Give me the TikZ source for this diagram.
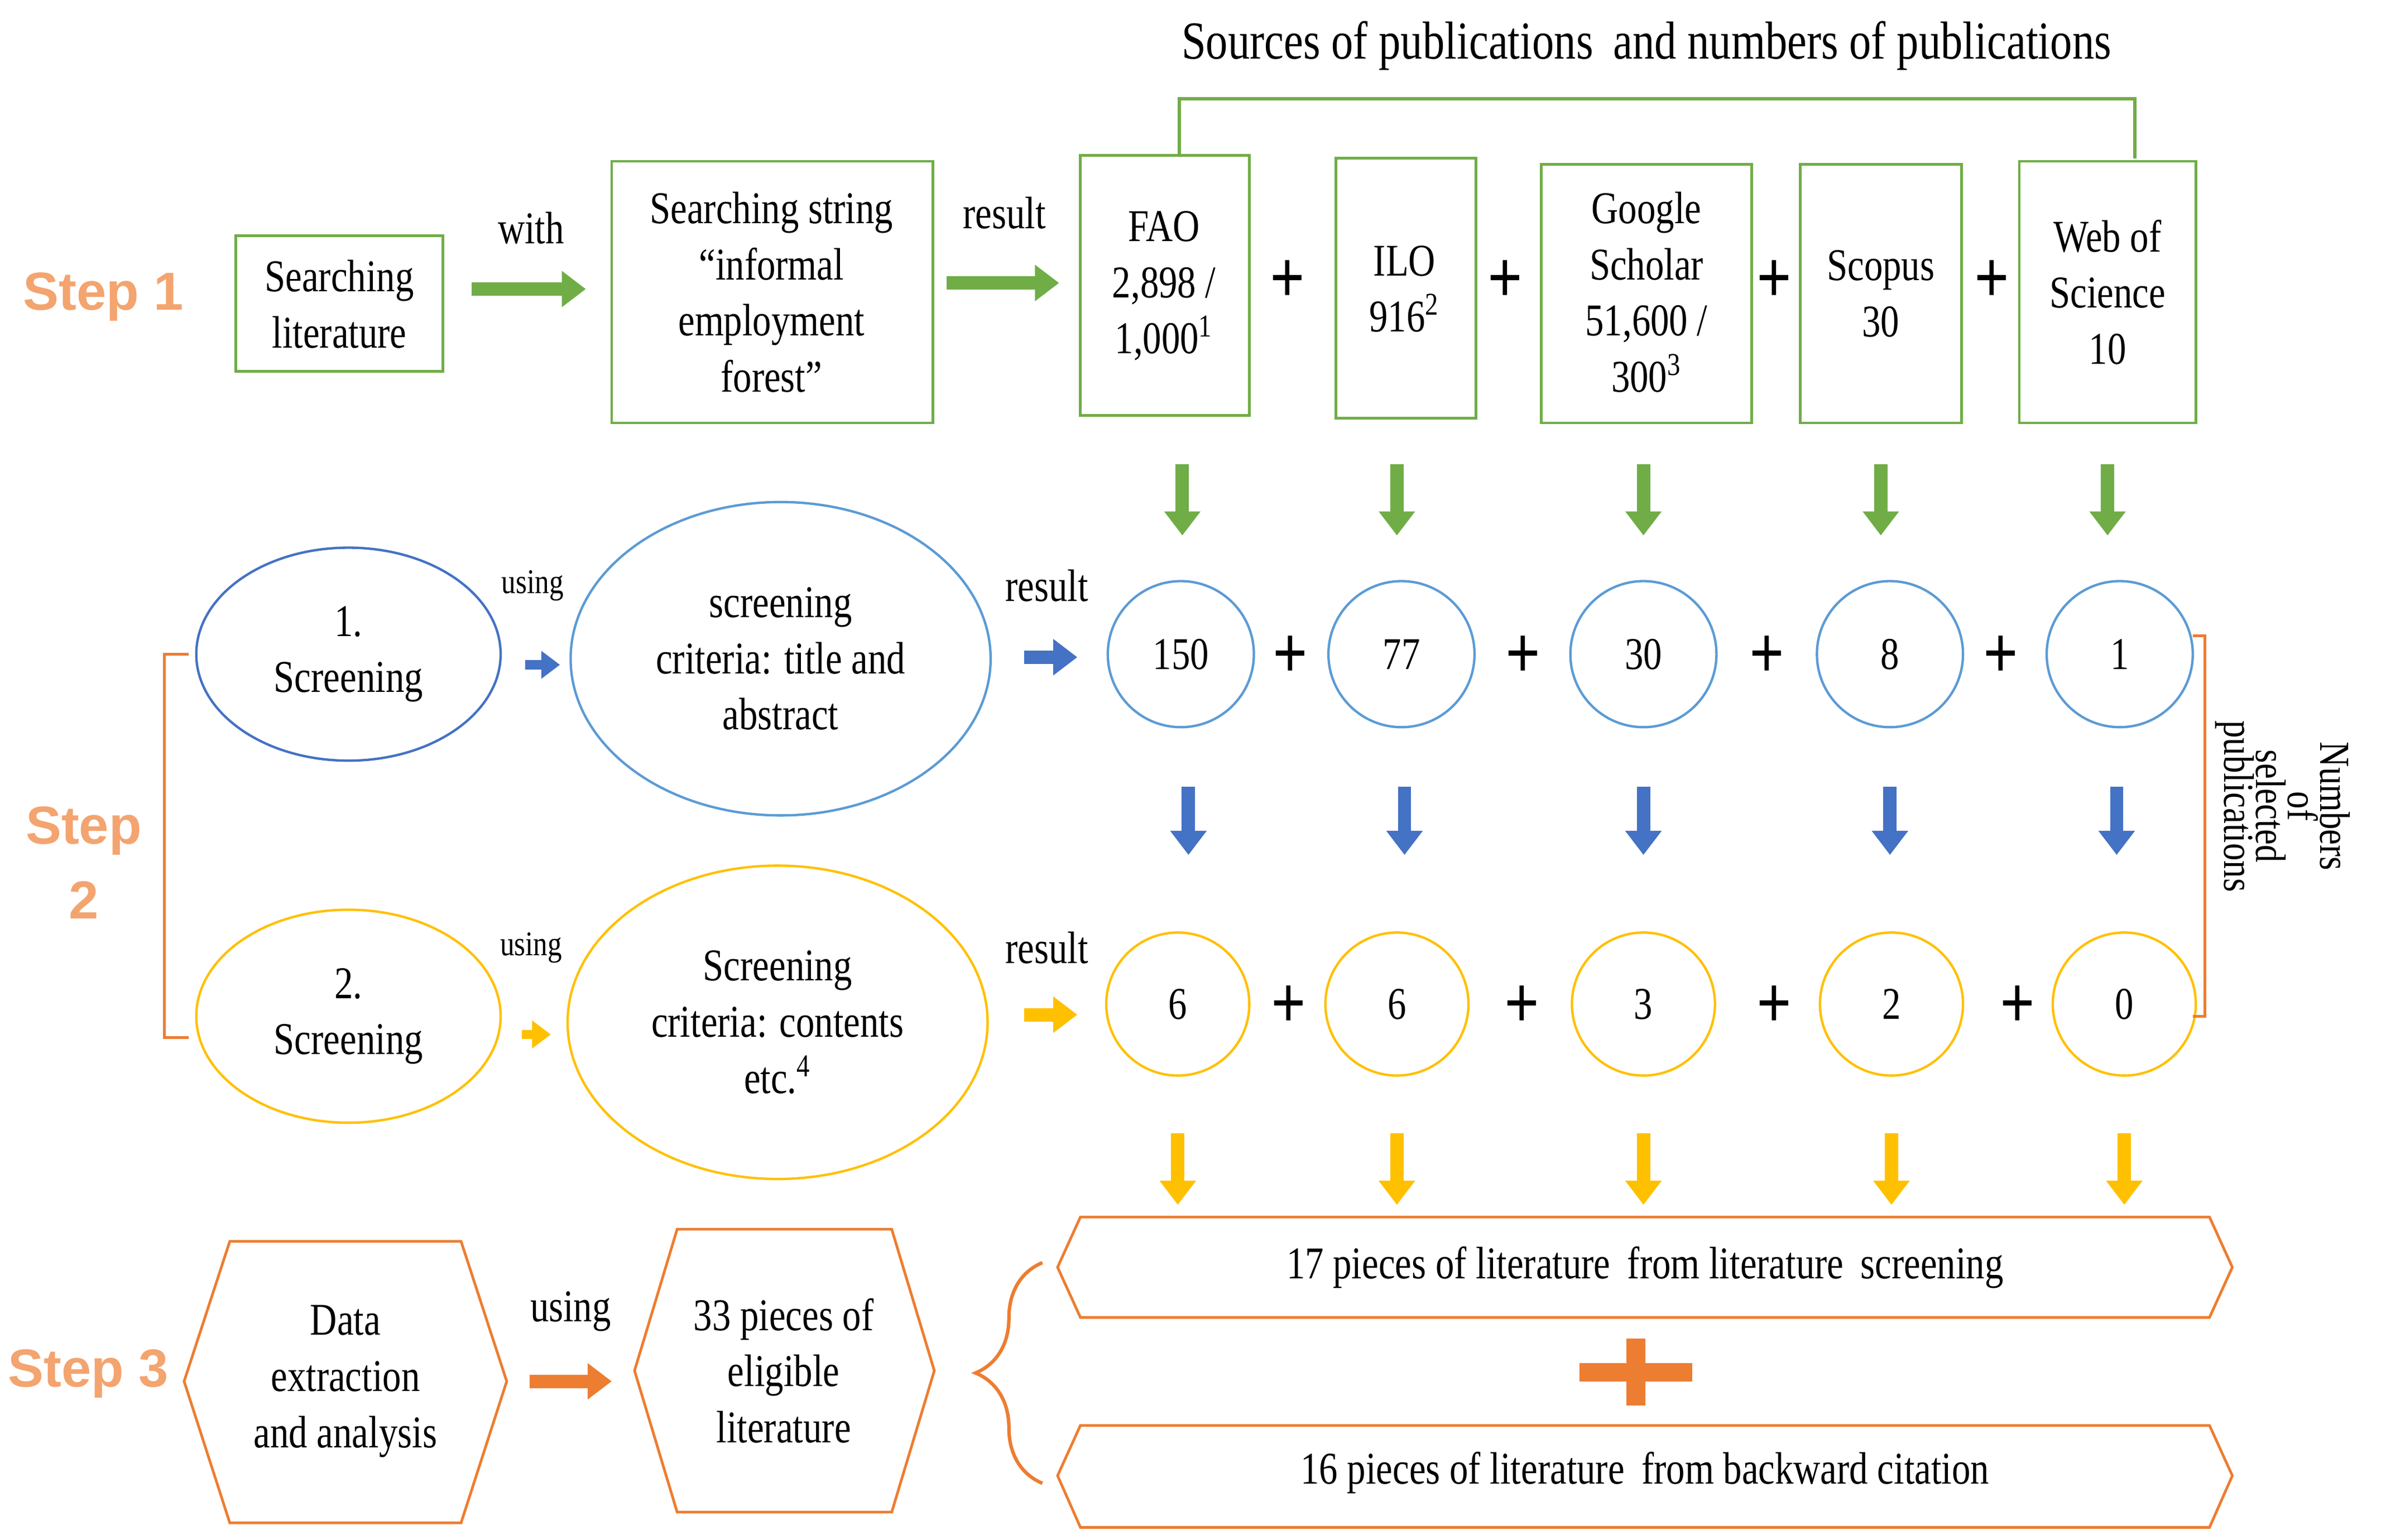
\documentclass[tikz,border=0pt]{standalone}
\usepackage{fontspec}
\setmainfont{Liberation Serif}[FakeStretch=0.82]
\newfontfamily\stepfont{Liberation Sans}
\usetikzlibrary{arrows.meta,decorations.pathreplacing}
\definecolor{cg}{HTML}{70AD47}
\definecolor{cb}{HTML}{4472C4}
\definecolor{clb}{HTML}{5B9BD5}
\definecolor{cy}{HTML}{FFC000}
\definecolor{co}{HTML}{ED7D31}
\begin{document}
\begin{tikzpicture}[x=0.02cm,y=-0.02cm,
  txt/.style={font=\fontsize{17}{21}\selectfont,align=center,inner sep=0pt},
  small/.style={font=\fontsize{13}{15}\selectfont,inner sep=0pt},
  steplbl/.style={font=\stepfont\bfseries\fontsize{20}{24}\selectfont,text=co!70,align=center},
  box/.style={draw=cg,line width=1pt},
  ar/.style={line width=5pt,-{Triangle[length=9pt,width=13pt]}},
  plus/.style={font=\bfseries\fontsize{28}{28}\selectfont,inner sep=0pt}]
\useasboundingbox (0,0) rectangle (1568,1012);
% title
\node[txt,font=\fontsize{20}{24}\selectfont] (title) at (1082,30) {Sources of publications\, and numbers of publications};
\draw[cg,line width=1.3pt] (775,102)--(775,65)--(1403,65)--(1403,104);
% step 1
\node[steplbl] (s1) at (68,195) {Step 1};
\draw[box] (155,155) rectangle (291,244);
\node[txt] (sl) at (223,200) {Searching\\literature};
\node[txt] (with) at (349,150) {with};
\draw[ar,cg] (310,190)--(385,190);
\draw[box] (402,106) rectangle (613,278);
\node[txt] (ss) at (507,192) {Searching string\\``informal\\employment\\forest''};
\node[txt] (r1) at (660,140) {result};
\draw[ar,cg] (622,186)--(696,186);
\draw[box] (710,102) rectangle (821,273);
\node[txt] (fao) at (765,188) {FAO\\2,898 /\\1,000\textsuperscript{1}};
\draw[box] (878,104) rectangle (970,275);
\node[txt] (ilo) at (923,190) {ILO\\916\textsuperscript{2}};
\draw[box] (1013,108) rectangle (1151,278);
\node[txt] (gs) at (1082,192) {Google\\Scholar\\51,600 /\\300\textsuperscript{3}};
\draw[box] (1183,108) rectangle (1289,278);
\node[txt] (sc) at (1236,193) {Scopus\\30};
\draw[box] (1327,106) rectangle (1443,278);
\node[txt] (wos) at (1385,192) {Web of\\Science\\10};
\foreach \x/\n in {846/a,989/b,1166/c,1309/d}{\node[plus] (p1\n) at (\x,185) {+};}
\foreach \x in {777,918,1080,1236,1385}{\draw[ar,cg] (\x,305)--(\x,352);}
% step 2 row 1
\node[steplbl] (s2) at (55,567) {Step\\[4pt]2};
\draw[cb,line width=0.9pt] (229,430) ellipse [x radius=100,y radius=70];
\node[txt] (sc1) at (229,430) {1.\\Screening};
\node[small] (u1) at (350,385) {using};
\draw[ar,cb,line width=3.5pt,-{Triangle[length=7pt,width=10pt]}] (345,437)--(368,437);
\draw[clb,line width=0.9pt] (513,433) ellipse [x radius=138,y radius=103];
\node[txt] (cr1) at (513,433) {screening\\criteria: title and\\abstract};
\node[txt] (r2) at (688,385) {result};
\draw[ar,cb] (673,432)--(708,432);
\foreach \x/\v/\n in {776/150/a,921/77/b,1080/30/c,1242/8/d,1393/1/e}{
  \draw[clb,line width=0.9pt] (\x,430) circle [radius=48];
  \node[txt] (n1\n) at (\x,430) {\v};}
\foreach \x/\n in {848/a,1001/b,1161/c,1315/d}{\node[plus] (p2\n) at (\x,432) {+};}
\foreach \x in {781,923,1080,1242,1391}{\draw[ar,cb] (\x,517)--(\x,562);}
% row 2
\draw[cy,line width=0.9pt] (229,668) ellipse [x radius=100,y radius=70];
\node[txt] (sc2) at (229,668) {2.\\Screening};
\node[small] (u2) at (349,623) {using};
\draw[ar,cy,line width=3.5pt,-{Triangle[length=7pt,width=10pt]}] (343,680)--(362,680);
\draw[cy,line width=0.9pt] (511,672) ellipse [x radius=138,y radius=103];
\node[txt] (cr2) at (511,672) {Screening\\criteria: contents\\etc.\textsuperscript{4}};
\node[txt] (r3) at (688,623) {result};
\draw[ar,cy] (673,667)--(708,667);
\foreach \x/\v/\n in {774/6/a,918/6/b,1080/3/c,1243/2/d,1396/0/e}{
  \draw[cy,line width=0.9pt] (\x,660) circle [radius=47];
  \node[txt] (n2\n) at (\x,660) {\v};}
\foreach \x/\n in {847/a,1000/b,1166/c,1326/d}{\node[plus] (p3\n) at (\x,662) {+};}
\foreach \x in {774,918,1080,1243,1396}{\draw[ar,cy] (\x,745)--(\x,792);}
\draw[co,line width=1pt] (124,430)--(108,430)--(108,682)--(124,682);
\draw[co,line width=1pt] (1441,418)--(1449,418)--(1449,668)--(1441,668);
\node[txt,rotate=-90,font=\fontsize{16}{12}\selectfont] (nsp) at (1500,530) {Numbers\\of\\selected\\publications};
% step 3
\node[steplbl] (s3) at (58,903) {Step 3};
\draw[co,line width=1pt] (121,908)--(151,816)--(303,816)--(333,908)--(303,1001)--(151,1001)--cycle;
\node[txt] (de) at (227,908) {Data\\extraction\\and analysis};
\node[txt] (u3) at (375,862) {using};
\draw[ar,co] (348,908)--(402,908);
\draw[co,line width=1pt] (417,901)--(445,808)--(586,808)--(614,901)--(586,994)--(445,994)--cycle;
\node[txt] (el) at (515,901) {33 pieces of\\eligible\\literature};
\draw[co,line width=1.3pt,decorate,decoration={brace,amplitude=25pt}] (685,975)--(685,830);
\draw[co,line width=1pt] (695,833)--(710,800)--(1452,800)--(1467,833)--(1452,866)--(710,866)--cycle;
\node[txt] (l1) at (1081,833) {17 pieces of literature\, from literature\, screening};
\draw[co,line width=1pt] (695,970)--(710,937)--(1452,937)--(1467,970)--(1452,1004)--(710,1004)--cycle;
\node[txt] (l2) at (1081,968) {16 pieces of literature\, from backward citation};
\draw[co,line width=7pt] (1038,902)--(1112,902);
\draw[co,line width=7pt] (1075,880)--(1075,924);
\end{tikzpicture}
\end{document}
